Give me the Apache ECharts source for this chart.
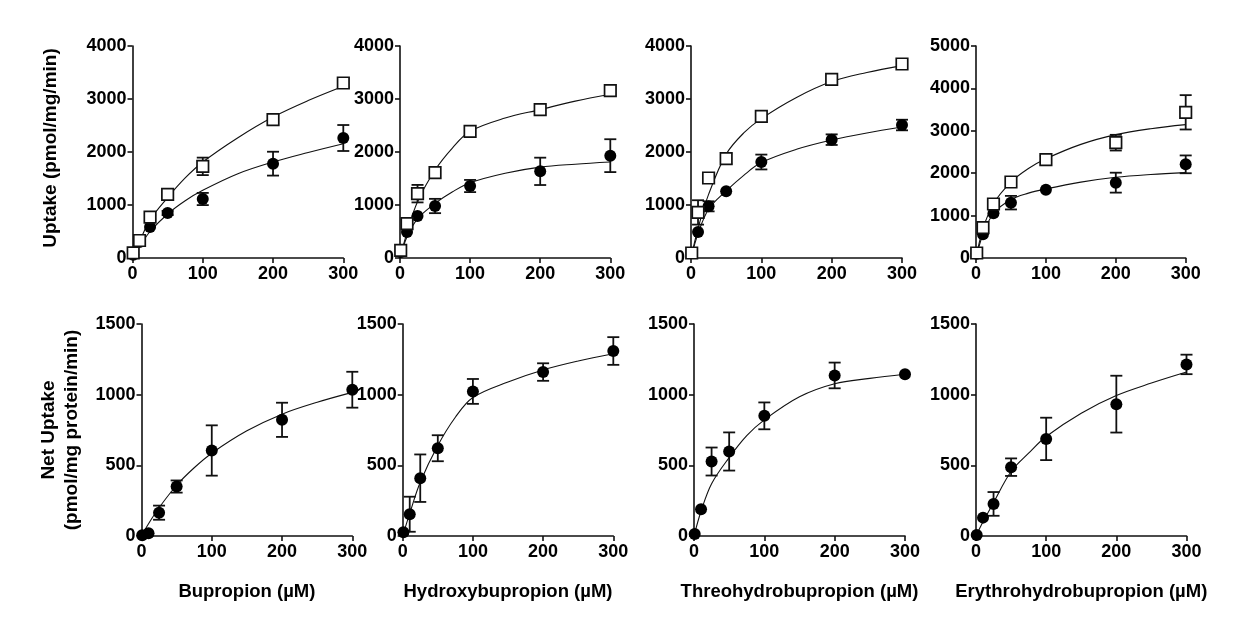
<!DOCTYPE html>
<html>
<head>
<meta charset="utf-8">
<title>Uptake kinetics</title>
<script src="https://cdn.jsdelivr.net/npm/echarts@6/dist/echarts.min.js"></script>
<style>
  html, body { margin: 0; padding: 0; background: #fff; }
  #chart { width: 1248px; height: 622px; }
</style>
</head>
<body>
<div id="chart"></div>
<script>
// Substrate concentrations (µM) and drug names
const conc = [1, 10, 25, 50, 100, 200, 300];
const drugs = ['Bupropion', 'Hydroxybupropion', 'Threohydrobupropion', 'Erythrohydrobupropion'];

// Top row: total uptake (pmol/mg/min), open squares and filled circles, mean and SEM
const bupOpen       = [95, 330, 773, 1201, 1729, 2610, 3302];
const bupOpenSem    = [0, 0, 40, 40, 165, 90, 90];
const bupFilled     = [63, 300, 585, 849, 1113, 1780, 2264];
const bupFilledSem  = [0, 0, 0, 40, 115, 225, 245];

const hydOpen       = [145, 648, 1214, 1610, 2390, 2799, 3157];
const hydOpenSem    = [0, 0, 165, 0, 0, 0, 0];
const hydFilled     = [113, 490, 792, 981, 1358, 1635, 1931];
const hydFilledSem  = [0, 0, 0, 135, 115, 258, 310];

const threoOpen      = [94, 860, 1509, 1874, 2673, 3371, 3660];
const threoOpenSem   = [0, 230, 0, 95, 0, 0, 0];
const threoFilled    = [94, 490, 975, 1258, 1811, 2233, 2509];
const threoFilledSem = [0, 0, 95, 0, 140, 100, 100];

const erythOpen      = [118, 715, 1274, 1793, 2319, 2720, 3436];
const erythOpenSem   = [0, 0, 0, 0, 90, 185, 405];
const erythFilled    = [102, 558, 1053, 1305, 1612, 1777, 2209];
const erythFilledSem = [0, 0, 0, 160, 0, 235, 210];

// Bottom row: net uptake (pmol/mg protein/min), mean and SEM
const bupNet       = [5, 19, 165, 350, 605, 822, 1035];
const bupNetSem    = [0, 0, 50, 43, 178, 121, 127];
const hydNet       = [26, 154, 409, 621, 1023, 1160, 1309];
const hydNetSem    = [0, 124, 168, 92, 88, 62, 98];
const threoNet     = [14, 189, 527, 598, 850, 1136, 1145];
const threoNetSem  = [0, 0, 99, 135, 95, 91, 0];
const erythNet     = [7, 130, 227, 487, 687, 933, 1214];
const erythNetSem  = [0, 0, 84, 62, 150, 201, 69];

// Fitted saturation curves sampled at these concentrations
const fitX = [0, 10, 25, 50, 75, 100, 150, 200, 250, 300];
const bupOpenFit     = [0, 310, 720, 1140, 1510, 1811, 2270, 2660, 2970, 3240];
const bupFilledFit   = [0, 215, 500, 830, 1080, 1277, 1590, 1811, 1990, 2157];
const hydOpenFit     = [0, 480, 1060, 1660, 2080, 2390, 2640, 2800, 2960, 3090];
const hydFilledFit   = [0, 400, 740, 1030, 1250, 1420, 1600, 1715, 1770, 1811];
const threoOpenFit   = [0, 560, 1200, 1960, 2360, 2630, 3030, 3330, 3500, 3630];
const threoFilledFit = [0, 460, 920, 1265, 1560, 1800, 2050, 2225, 2360, 2472];
const erythOpenFit   = [0, 690, 1280, 1790, 2110, 2340, 2680, 2910, 3050, 3145];
const erythFilledFit = [0, 560, 1050, 1380, 1530, 1630, 1790, 1905, 1970, 2013];
const bupNetFit      = [0, 87, 200, 359, 483, 586, 744, 862, 946, 1016];
const hydNetFit      = [0, 160, 380, 640, 840, 980, 1090, 1175, 1238, 1290];
const threoNetFit    = [0, 175, 370, 555, 710, 822, 985, 1077, 1115, 1145];
const erythNetFit    = [0, 100, 236, 456, 586, 704, 869, 994, 1082, 1160];

// Axis ranges and tick spacing
const xMax = 300, xStep = 100;
const topYMax = [4000, 4000, 4000, 5000];
const topYStep = 1000;
const netYMax = 1500, netYStep = 500;

const FONT = '"Liberation Sans", Arial, sans-serif';
const INK = '#111';

// Plot area rectangles (px)
const topRowTop = 46, topRowHeight = 212;
const botRowTop = 324, botRowHeight = 212;
const topLefts  = [132.5, 400, 691, 976];
const topWidths = [210.8, 210.3, 211, 209.7];
const botLefts  = [141.5, 402.7, 694, 976];
const botWidths = [210.8, 210.6, 211, 210.5];

const panels = [
  { open: bupOpen, openSem: bupOpenSem, filled: bupFilled, filledSem: bupFilledSem, openFit: bupOpenFit, filledFit: bupFilledFit },
  { open: hydOpen, openSem: hydOpenSem, filled: hydFilled, filledSem: hydFilledSem, openFit: hydOpenFit, filledFit: hydFilledFit },
  { open: threoOpen, openSem: threoOpenSem, filled: threoFilled, filledSem: threoFilledSem, openFit: threoOpenFit, filledFit: threoFilledFit },
  { open: erythOpen, openSem: erythOpenSem, filled: erythFilled, filledSem: erythFilledSem, openFit: erythOpenFit, filledFit: erythFilledFit }
];
const netPanels = [
  { mean: bupNet, sem: bupNetSem, fit: bupNetFit },
  { mean: hydNet, sem: hydNetSem, fit: hydNetFit },
  { mean: threoNet, sem: threoNetSem, fit: threoNetFit },
  { mean: erythNet, sem: erythNetSem, fit: erythNetFit }
];

const grids = [], xAxes = [], yAxes = [], series = [];

function axisStyle() {
  return {
    axisLine: { show: true, onZero: false, lineStyle: { color: INK, width: 1.6 } },
    axisTick: { show: true, inside: false, length: 5, lineStyle: { color: INK, width: 1.6 } },
    splitLine: { show: false },
    minorTick: { show: false }
  };
}

const labelStyle = (margin) => ({
  color: '#000', fontFamily: FONT, fontWeight: 'bold', fontSize: 18, margin: margin,
  formatter: (v) => String(v)
});

function addAxes(idx, left, top, width, height, yMax, yStep, xName) {
  grids.push({ left: left, top: top, width: width, height: height, outerBoundsMode: 'none', containLabel: false });
  xAxes.push(Object.assign({
    type: 'value', gridIndex: idx, min: 0, max: xMax, interval: xStep,
    axisLabel: labelStyle(7),
    name: xName || '', nameLocation: 'middle', nameGap: 46,
    nameTextStyle: { color: '#000', fontFamily: FONT, fontWeight: 'bold', fontSize: 18.5 }
  }, axisStyle()));
  yAxes.push(Object.assign({
    type: 'value', gridIndex: idx, min: 0, max: yMax, interval: yStep,
    axisLabel: labelStyle(6)
  }, axisStyle()));
}

function errorBars(idx, mean, sem) {
  return {
    type: 'custom', xAxisIndex: idx, yAxisIndex: idx, silent: true, z: 2, clip: false,
    data: conc.map((x, k) => [x, mean[k] - sem[k], mean[k] + sem[k]]),
    encode: { x: 0, y: [1, 2] },
    renderItem: function (params, api) {
      const x = api.value(0), lo = api.value(1), hi = api.value(2);
      if (!(hi > lo)) return { type: 'group', children: [] };
      const a = api.coord([x, lo]), b = api.coord([x, hi]);
      const hw = 6;
      const st = { stroke: INK, lineWidth: 1.8 };
      return {
        type: 'group',
        children: [
          { type: 'line', shape: { x1: a[0], y1: a[1], x2: b[0], y2: b[1] }, style: st },
          { type: 'line', shape: { x1: a[0] - hw, y1: a[1], x2: a[0] + hw, y2: a[1] }, style: st },
          { type: 'line', shape: { x1: b[0] - hw, y1: b[1], x2: b[0] + hw, y2: b[1] }, style: st }
        ]
      };
    }
  };
}

function fitLine(idx, values) {
  return {
    type: 'line', xAxisIndex: idx, yAxisIndex: idx, silent: true, z: 3,
    showSymbol: false, symbol: 'none', smooth: 0.35,
    lineStyle: { color: INK, width: 1.1 },
    data: fitX.map((x, k) => [x, values[k]])
  };
}

function points(idx, values, open) {
  return {
    type: 'scatter', xAxisIndex: idx, yAxisIndex: idx, silent: true, z: 4, clip: false,
    symbol: open ? 'rect' : 'circle', symbolSize: open ? 11.5 : 12,
    itemStyle: open
      ? { color: '#fff', borderColor: INK, borderWidth: 1.7, opacity: 1 }
      : { color: '#000', opacity: 1 },
    data: conc.map((x, k) => [x, values[k]])
  };
}

// Top row: total uptake with two conditions
panels.forEach((p, i) => {
  addAxes(i, topLefts[i], topRowTop, topWidths[i], topRowHeight, topYMax[i], topYStep, '');
  series.push(errorBars(i, p.filled, p.filledSem));
  series.push(errorBars(i, p.open, p.openSem));
  series.push(fitLine(i, p.openFit));
  series.push(fitLine(i, p.filledFit));
  series.push(points(i, p.filled, false));
  series.push(points(i, p.open, true));
});

// Bottom row: net uptake
netPanels.forEach((p, i) => {
  const idx = i + 4;
  addAxes(idx, botLefts[i], botRowTop, botWidths[i], botRowHeight, netYMax, netYStep, drugs[i] + ' (µM)');
  series.push(errorBars(idx, p.mean, p.sem));
  series.push(fitLine(idx, p.fit));
  series.push(points(idx, p.mean, false));
});

const chart = echarts.init(document.getElementById('chart'), null, { renderer: 'canvas' });
chart.setOption({
  backgroundColor: '#fff',
  animation: false,
  grid: grids,
  xAxis: xAxes,
  yAxis: yAxes,
  series: series,
  graphic: [
    {
      type: 'text', x: 51, y: 148, rotation: Math.PI / 2,
      style: {
        text: 'Uptake (pmol/mg/min)', fill: '#000',
        font: 'bold 19px ' + FONT, textAlign: 'center', textVerticalAlign: 'middle'
      }
    },
    {
      type: 'text', x: 60.5, y: 430, rotation: Math.PI / 2,
      style: {
        text: 'Net Uptake\n(pmol/mg protein/min)', fill: '#000', lineHeight: 23,
        font: 'bold 19px ' + FONT, textAlign: 'center', textVerticalAlign: 'middle'
      }
    }
  ]
});
</script>
</body>
</html>
